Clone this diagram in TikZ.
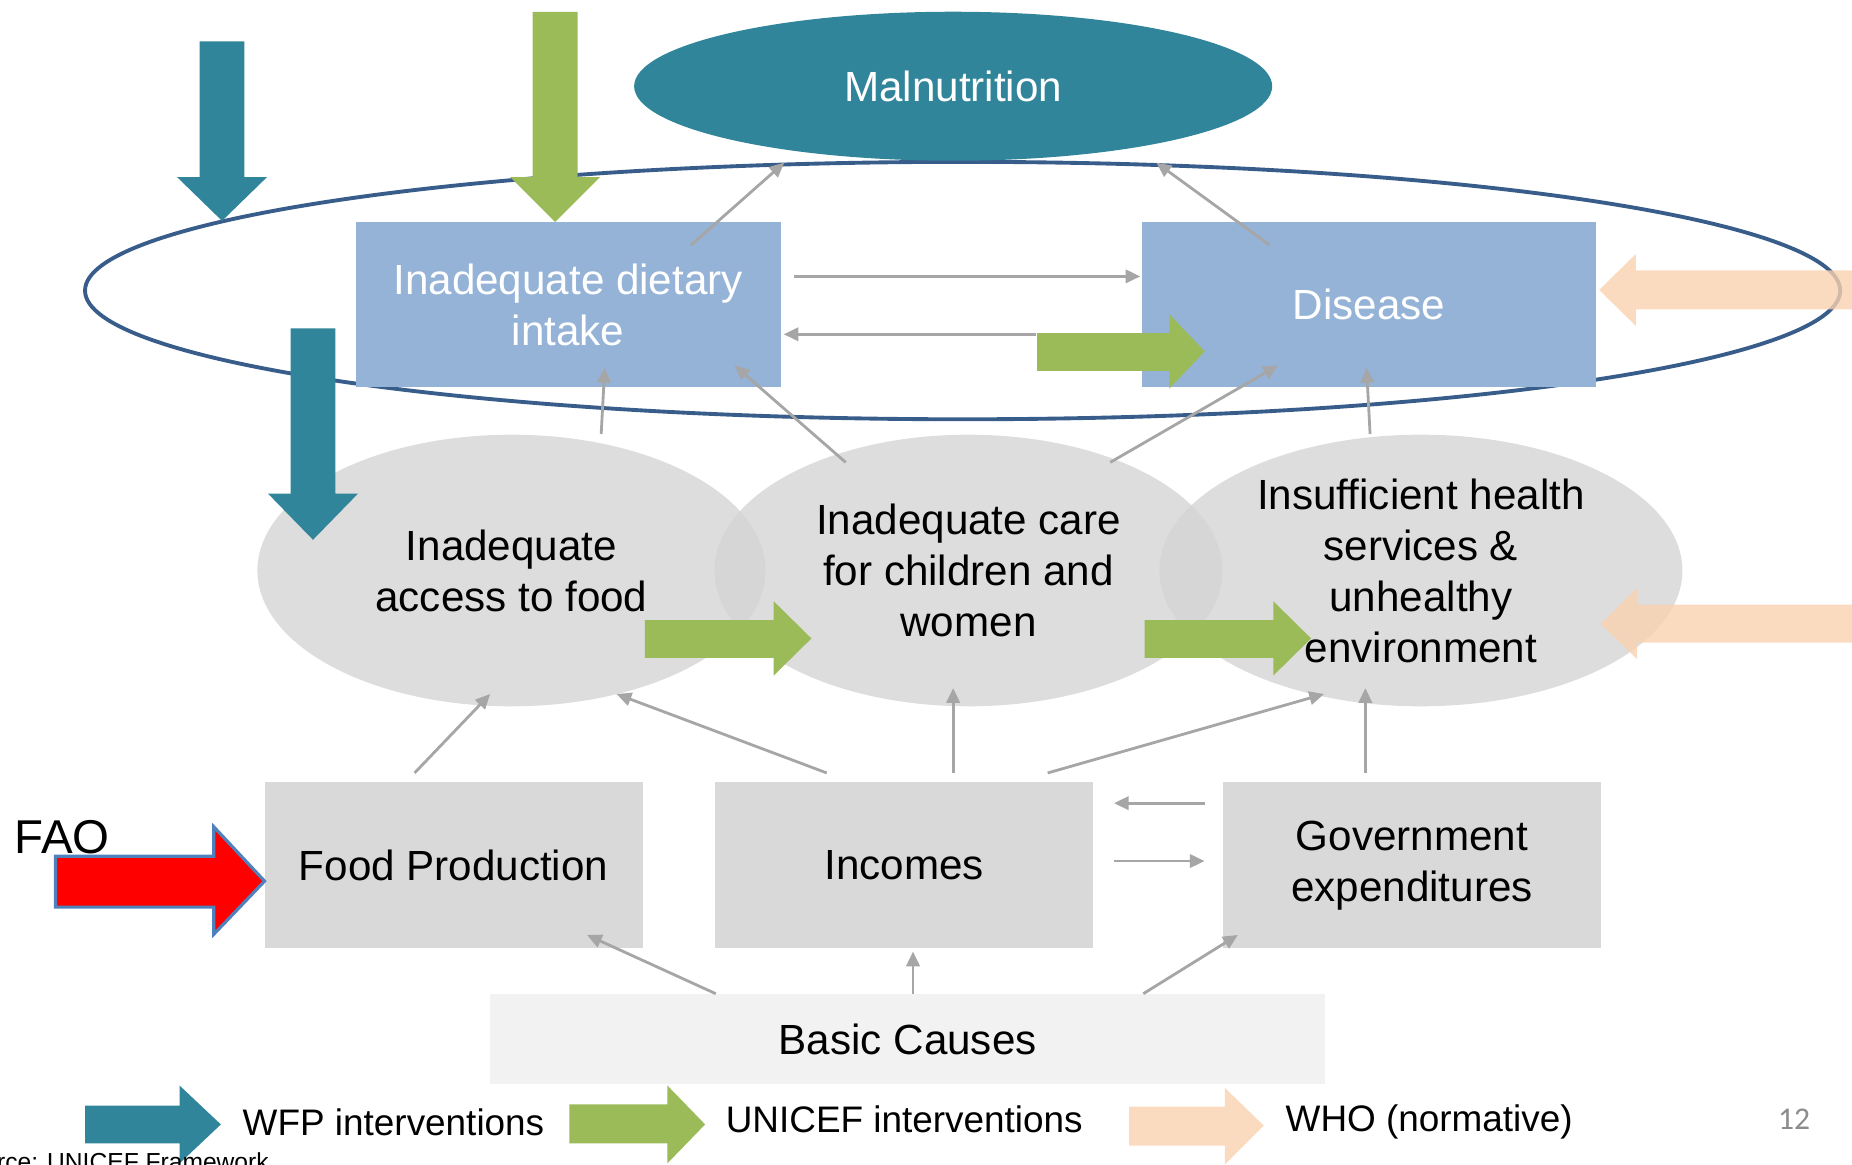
\documentclass[tikz,border=0pt]{standalone}
\usepackage{fontspec}
\setmainfont{Liberation Sans}
\newfontfamily\pagefont{Carlito}
\usetikzlibrary{arrows.meta,shapes.geometric}

\definecolor{wfpteal}{RGB}{49,133,155}
\definecolor{unicefgreen}{RGB}{155,187,89}
\definecolor{whopeach}{RGB}{250,210,176}
\definecolor{boxblue}{RGB}{149,179,215}
\definecolor{ringblue}{RGB}{56,93,138}
\definecolor{causegray}{RGB}{217,217,217}
\definecolor{ovalgray}{RGB}{212,212,212}
\definecolor{basegray}{RGB}{242,242,242}
\definecolor{linkgray}{RGB}{166,166,166}
\definecolor{faoblue}{RGB}{79,129,189}
\definecolor{pagegray}{RGB}{140,140,140}

\tikzset{
  every node/.style={font=\fontsize{12}{14.5}\selectfont},
  immediate/.style={rectangle, fill=boxblue, text=white, align=center,
    minimum width=4.25cm, minimum height=1.65cm},
  underlying/.style={ellipse, fill=ovalgray, fill opacity=0.8, text opacity=1,
    align=center, inner sep=-4pt, minimum width=5.08cm, minimum height=2.716cm},
  basicbox/.style={rectangle, fill=causegray, align=center,
    minimum width=3.78cm, minimum height=1.665cm},
  link/.style={draw=linkgray, line width=0.8pt, -{Triangle[length=4.2pt,width=3.8pt]}},
  wfp/.style={fill=wfpteal},
  unicef/.style={fill=unicefgreen},
  who/.style={fill=whopeach, fill opacity=0.8},
  legend/.style={anchor=west, font=\fontsize{10.5}{12}\selectfont}
}

\begin{document}
\begin{tikzpicture}[x=0.01181cm, y=-0.01181cm]
\useasboundingbox (0,0) rectangle (1568,986);

\node [ellipse, draw=ringblue, line width=1.1pt, minimum width=17.55cm, minimum height=2.574cm] (ring) at (815,246) {};
\node [ellipse, fill=wfpteal, text=white, minimum width=6.38cm, minimum height=1.49cm] (mal) at (807,73) {Malnutrition};

\node [immediate] (diet) at (481,258) {Inadequate dietary\\intake};
\node [immediate, minimum width=4.535cm] (dis) at (1159,258) {Disease};

\node [underlying] (acc) at (433,483) {Inadequate\\access to food};
\node [underlying] (care) at (820,483) {Inadequate care\\for children and\\women};
\node [underlying, minimum width=5.23cm] (env) at (1203,483) {Insufficient health\\services \&\\unhealthy\\environment};

\node [basicbox] (food) at (384,732.5) {Food Production};
\node [basicbox] (inc) at (765.5,732.5) {Incomes};
\node [basicbox] (gov) at (1195.5,732.5) {Government\\expenditures};
\node [basicbox, fill=basegray, minimum width=8.35cm, minimum height=0.9cm] (basic) at (768.5,880) {Basic Causes};

\draw [link] ([shift={(-33,-7)}]food.north) -- ([shift={(-18,-11)}]acc.south);
\draw [link] ([shift={(-65.5,-7)}]inc.north) -- ([shift={(89,-11)}]acc.south);
\draw [link] ([shift={(41.5,-7)}]inc.north) -- ([shift={(-13,-16)}]care.south);
\draw [link] ([shift={(121.5,-7)}]inc.north) -- ([shift={(-82,-11)}]env.south);
\draw [link] ([shift={(-39.5,-7)}]gov.north) -- ([shift={(-47,-16)}]env.south);
\draw [link] ([shift={(-15,-52.5)}]gov.west) -- ([shift={(17,-52.5)}]inc.east);
\draw [link] ([shift={(17,-3.5)}]inc.east) -- ([shift={(-15,-3.5)}]gov.west);
\draw [link] ([shift={(-162.5,0)}]basic.north) -- ([shift={(113,-12)}]food.south);
\draw [link] ([shift={(4.5,0)}]basic.north) -- ([shift={(7.5,2)}]inc.south);
\draw [link] ([shift={(199.5,0)}]basic.north) -- ([shift={(-147.5,-12)}]gov.south);
\draw [link] ([shift={(76,0)}]acc.north) -- ([shift={(31,-17)}]diet.south);
\draw [link] ([shift={(-104,24)}]care.north) -- ([shift={(141,-19)}]diet.south);
\draw [link] ([shift={(120,24)}]care.north) -- ([shift={(-77,-19)}]dis.south);
\draw [link] ([shift={(-43,0)}]env.north) -- ([shift={(-2,-17)}]dis.south);
\draw [link] ([shift={(104,20)}]diet.north) -- ([shift={(-143,1)}]mal.south);
\draw [link] ([shift={(-84,20)}]dis.north) -- ([shift={(172,1)}]mal.south);
\draw [link] ([shift={(11,-24)}]diet.east) -- ([shift={(-1,-24)}]dis.west);
\draw [link] ([shift={(-89,25)}]dis.west) -- ([shift={(2,25)}]diet.east);

\fill [wfp] (169,35) -- (207,35) -- (207,150) -- (226,150) -- (188,187) -- (150,150) -- (169,150) -- cycle;
\fill [wfp] (246,278) -- (284,278) -- (284,418) -- (303,418) -- (265,457) -- (227,418) -- (246,418) -- cycle;
\fill [unicef] (451,10) -- (489,10) -- (489,150) -- (508,150) -- (470,188) -- (432,150) -- (451,150) -- cycle;
\fill [unicef] (878,282) -- (990,282) -- (990,266) -- (1020,297.5) -- (990,329) -- (990,314) -- (878,314) -- cycle;
\fill [unicef] (546,525) -- (655,525) -- (655,509) -- (687,540.5) -- (655,572) -- (655,557) -- (546,557) -- cycle;
\fill [unicef] (969,525) -- (1078,525) -- (1078,509) -- (1110,540.5) -- (1078,572) -- (1078,557) -- (969,557) -- cycle;
\fill [who] (1354,245.5) -- (1385,215) -- (1385,229) -- (1580,229) -- (1580,262) -- (1385,262) -- (1385,276) -- cycle;
\fill [who] (1355,528) -- (1386,498) -- (1386,512) -- (1580,512) -- (1580,544) -- (1386,544) -- (1386,558) -- cycle;

\node [anchor=west, font=\fontsize{13.5}{16}\selectfont] (fao) at (2,709) {FAO};
\draw [fill=red, draw=faoblue, line width=0.9pt] (47,725) -- (181,725) -- (181,700) -- (224,746) -- (181,791) -- (181,768) -- (47,768) -- cycle;

\fill [wfp] (72,936) -- (152,936) -- (152,919) -- (187,952) -- (152,985) -- (152,968) -- (72,968) -- cycle;
\node [legend] (wfpkey) at (195,950) {WFP interventions};
\fill [unicef] (482,935) -- (565,935) -- (565,919) -- (597,952) -- (565,985) -- (565,968) -- (482,968) -- cycle;
\node [legend] (unicefkey) at (604,948) {UNICEF interventions};
\fill [who] (956,937) -- (1037,937) -- (1037,921) -- (1070,953) -- (1037,986) -- (1037,970) -- (956,970) -- cycle;
\node [legend] (whokey) at (1078,950) {WHO (normative)};

\node [text=pagegray, font=\pagefont\fontsize{9}{10}\selectfont] (page) at (1519,948) {12};
\node [anchor=base east, font=\fontsize{7}{8}\selectfont] (source) at (238,991) {Source: UNICEF Framework};
\end{tikzpicture}
\end{document}
